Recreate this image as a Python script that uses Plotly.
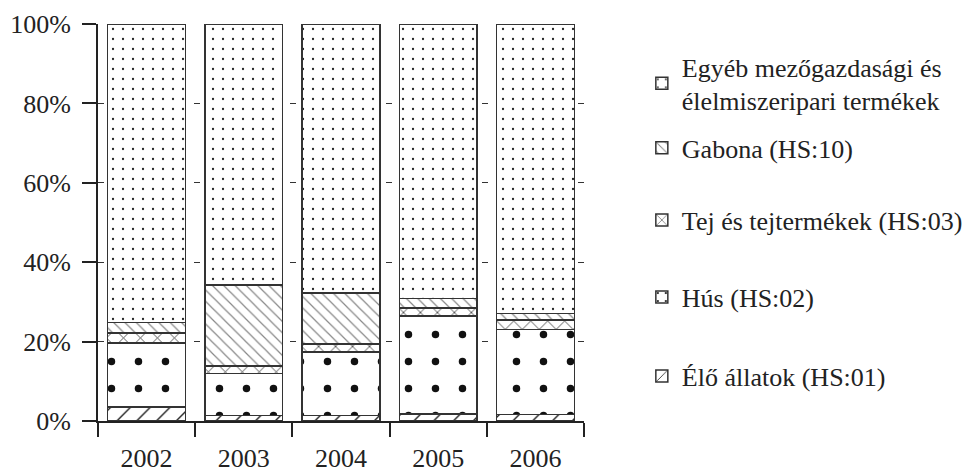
import plotly.graph_objects as go

years = ["2002", "2003", "2004", "2005", "2006"]
elo_allatok = [3.5, 1.4, 1.4, 1.8, 1.7]
hus = [16.1, 10.6, 16.0, 24.6, 21.3]
tej = [2.6, 1.9, 2.0, 2.1, 2.4]
gabona = [2.6, 20.4, 12.8, 2.4, 1.7]
egyeb = [75.2, 65.7, 67.8, 69.1, 72.9]
y_ticks = [0, 20, 40, 60, 80, 100]
y_tick_labels = ["0%", "20%", "40%", "60%", "80%", "100%"]

names = ["Élő állatok (HS:01)", "Hús (HS:02)", "Tej és tejtermékek (HS:03)",
         "Gabona (HS:10)", "Egyéb mezőgazdasági és<br>élelmiszeripari termékek"]
series = [elo_allatok, hus, tej, gabona, egyeb]
patterns = [
    dict(shape="/", size=14, solidity=0.1, fgcolor="#222"),
    dict(shape=".", size=27, solidity=0.06, fgcolor="#111"),
    dict(shape="x", size=12, solidity=0.12, fgcolor="#222"),
    dict(shape="\\", size=8, solidity=0.15, fgcolor="#888"),
    dict(shape=".", size=10, solidity=0.04, fgcolor="#222"),
]
legend_ids = ["legend5", "legend4", "legend3", "legend2", "legend"]
legend_y = [0.113, 0.312, 0.506, 0.688, 0.850]

FONT = "Liberation Serif"
TXT = dict(family=FONT, size=26, color="#222")
fig = go.Figure()
for nm, vals, pat, lg in zip(names, series, patterns, legend_ids):
    fig.add_trace(go.Bar(
        x=years, y=vals, name=nm, legend=lg,
        marker=dict(color="white", line=dict(color="#333", width=1.5),
                    pattern=dict(bgcolor="white", fillmode="replace", **pat)),
    ))

legend_layout = {}
for lg, ly in zip(legend_ids, legend_y):
    legend_layout[lg] = dict(x=1.119, y=ly, xanchor="left", yanchor="middle",
                             font=TXT, bgcolor="rgba(0,0,0,0)")

# page body has an 8px margin, so the figure is 8px smaller than the window
fig.update_layout(
    width=964, height=466,
    barmode="stack", bargap=0.2,
    plot_bgcolor="white", paper_bgcolor="white",
    margin=dict(l=90, r=388, t=16, b=53, autoexpand=False),
    font=TXT,
    showlegend=True,
    **legend_layout,
)
fig.update_xaxes(
    type="category", tickson="boundaries", ticks="outside", ticklen=14,
    tickwidth=2, tickcolor="#222", showline=True, linewidth=2, linecolor="#222",
    showgrid=False, ticklabelstandoff=13, tickfont=TXT, automargin=False,
)
fig.update_yaxes(
    range=[0, 100], tickmode="array", tickvals=y_ticks, ticktext=y_tick_labels,
    ticks="outside", ticklen=14, tickwidth=2, tickcolor="#222",
    showline=True, linewidth=2, linecolor="#222",
    showgrid=True, gridcolor="#333", gridwidth=1, griddash="6px,10px",
    zeroline=False, ticklabelstandoff=6, tickfont=TXT, automargin=False,
)

fig.write_html("out.html")
